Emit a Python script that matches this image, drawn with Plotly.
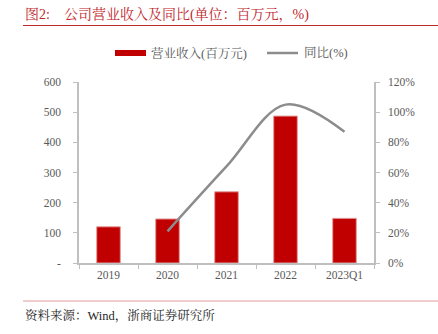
import plotly.graph_objects as go

categories = ["2019", "2020", "2021", "2022", "2023Q1"]
revenue = [120, 146, 236, 487, 148]
yoy = [None, 21, 64, 105, 87]
left_ticks = [0, 100, 200, 300, 400, 500, 600]
left_labels = ["-", "100", "200", "300", "400", "500", "600"]
right_ticks = [0, 20, 40, 60, 80, 100, 120]
right_labels = ["0%", "20%", "40%", "60%", "80%", "100%", "120%"]
bar_name = "营业收入(百万元)"
line_name = "同比(%)"

W, H = 438, 334
L, R, T, B = 79, 64, 82, 71
PW, PH = W - L - R, H - T - B

def px(x):
    return (x - L) / PW

def py(y):
    return 1 - (y - T) / PH

SERIF = "Liberation Serif, Noto Serif CJK SC, Noto Sans CJK SC, serif"
GRAY = "#595959"
AX = "#bfbfbf"
RED = "#c00000"
LGRAY = "#8c8c8c"

fig = go.Figure()
fig.add_trace(go.Bar(
    x=categories, y=revenue, name=bar_name,
    marker=dict(color=RED, line=dict(color="#e39a9a", width=1)),
    width=0.4, yaxis="y",
))
fig.add_trace(go.Scatter(
    x=categories, y=yoy, name=line_name, mode="lines",
    line=dict(color=LGRAY, width=2.5, shape="spline", smoothing=1.0),
    yaxis="y2", connectgaps=False,
))

fig.update_layout(
    width=W, height=H,
    margin=dict(l=L, r=R, t=T, b=B),
    paper_bgcolor="white", plot_bgcolor="white",
    font=dict(family=SERIF, size=11, color=GRAY),
    showlegend=False,
    xaxis=dict(type="category", showline=True, linecolor=AX, linewidth=1.5,
               ticks="outside", ticklen=4, tickcolor=AX, tickson="boundaries",
               showgrid=False, tickfont=dict(size=11.5, color=GRAY)),
    yaxis=dict(range=[0, 600], tickvals=left_ticks, ticktext=left_labels,
               showline=True, linecolor=AX, linewidth=1.5, ticks="outside",
               ticklen=4, tickcolor=AX, showgrid=False, zeroline=False,
               tickfont=dict(size=11.5, color=GRAY), ticklabelstandoff=10),
    yaxis2=dict(range=[0, 120], tickvals=right_ticks, ticktext=right_labels,
                overlaying="y", side="right", showline=True, linecolor=AX,
                linewidth=1.5, ticks="outside", ticklen=4, tickcolor=AX,
                showgrid=False, zeroline=False,
                tickfont=dict(size=11.5, color=GRAY), ticklabelstandoff=6),
    bargap=0.6,
)

# legend drawn by hand to match the wide swatches
fig.add_shape(type="rect", xref="paper", yref="paper", x0=px(115), x1=px(146),
              y0=py(56), y1=py(50), line=dict(width=0), fillcolor=RED)
fig.add_annotation(text=bar_name, xref="paper", yref="paper", x=px(149), y=py(53),
                   xanchor="left", yanchor="middle", showarrow=False,
                   font=dict(size=12.5, color=GRAY, family=SERIF))
fig.add_shape(type="line", xref="paper", yref="paper", x0=px(267), x1=px(298),
              y0=py(53), y1=py(53), line=dict(color=LGRAY, width=2.5))
fig.add_annotation(text=line_name, xref="paper", yref="paper", x=px(302), y=py(53),
                   xanchor="left", yanchor="middle", showarrow=False,
                   font=dict(size=12.5, color=GRAY, family=SERIF))

fig.add_annotation(text="图2:\u00a0\u00a0\u00a0\u00a0公司营业收入及同比(单位：百万元，%)",
                   xref="paper", yref="paper",
                   x=px(23), y=py(14), xanchor="left", yanchor="middle", showarrow=False,
                   font=dict(size=14, color="#c0272d", family=SERIF))
fig.add_shape(type="line", xref="paper", yref="paper", x0=px(23), x1=px(438),
              y0=py(25.5), y1=py(25.5), line=dict(color="#c0272d", width=1.2))
fig.add_shape(type="line", xref="paper", yref="paper", x0=px(23), x1=px(438),
              y0=py(301), y1=py(301), line=dict(color="#e39a9a", width=1.2))
fig.add_annotation(text="资料来源：Wind，浙商证券研究所", xref="paper", yref="paper",
                   x=px(23), y=py(315), xanchor="left", yanchor="middle", showarrow=False,
                   font=dict(size=12.5, color="#262626", family=SERIF))

fig.write_html("out.html")
